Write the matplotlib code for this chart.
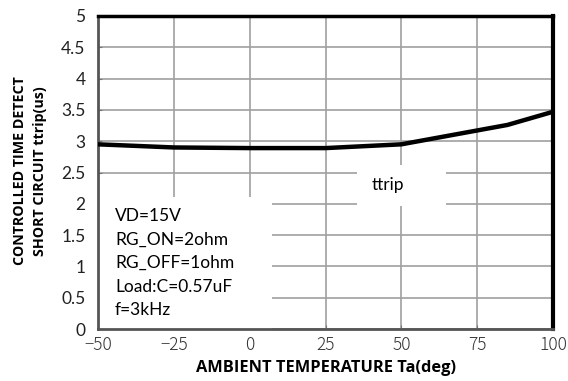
import matplotlib
matplotlib.use("Agg")
import matplotlib.pyplot as plt
from matplotlib.patches import Rectangle

temps = [-50, -25, 0, 25, 50, 85, 100]
ttrip = [2.95, 2.9, 2.89, 2.89, 2.95, 3.26, 3.47]
xticks = [-50, -25, 0, 25, 50, 75, 100]
yticks = [0, 0.5, 1, 1.5, 2, 2.5, 3, 3.5, 4, 4.5, 5]
ytick_labels = ["0", "0.5", "1", "1.5", "2", "2.5", "3", "3.5", "4", "4.5", "5"]
xtick_labels = ["\u221250", "\u221225", "0", "25", "50", "75", "100"]
conditions = ["VD=15V", "RG_ON=2ohm", "RG_OFF=1ohm", "Load:C=0.57uF", "f=3kHz"]

fig = plt.figure(figsize=(5.68, 3.81), dpi=100)
ax = fig.add_axes([98/568, 1-329/381, (553-98)/568, (329-16)/381])
ax.set_xlim(-50, 100)
ax.set_ylim(0, 5)
ax.set_xticks(xticks)
ax.set_yticks(yticks)
ax.set_yticklabels(ytick_labels, fontfamily="Lato", fontsize=12.5, color="#222222")
ax.set_xticklabels(xtick_labels, fontfamily=["Noto Sans CJK JP", "DejaVu Sans"], fontweight="light",
                   fontsize=12.5, color="#333333")
ax.tick_params(axis="y", direction="in", length=3, color="#777777", pad=9)
ax.tick_params(axis="x", direction="in", length=3, color="#777777", pad=5)
ax.grid(True, color="#a0a0a0", lw=1.2)
ax.set_axisbelow(True)

for s in ["top", "right"]:
    ax.spines[s].set_color("black")
ax.spines["top"].set_linewidth(2.5)
ax.spines["right"].set_linewidth(3)
for s in ["left", "bottom"]:
    ax.spines[s].set_color("#555555")
    ax.spines[s].set_linewidth(2)

ax.plot(temps, ttrip, color="black", lw=3.2, zorder=3)

# white boxes covering gridlines
ax.add_patch(Rectangle((-50, 0), (272-98)/455*150, (329-197)/313*5, facecolor="white", edgecolor="none", zorder=2))
ax.add_patch(Rectangle((-50 + (357-98)/455*150, (329-206)/313*5), (446-357)/455*150, (206-165)/313*5,
                       facecolor="white", edgecolor="none", zorder=2))

ax.text(-50 + (388-98)/455*150, (329-185)/313*5, "ttrip", fontfamily="Lato", fontsize=12.5,
        ha="center", va="center", zorder=4)

for i, line in enumerate(conditions):
    y = 216 + i*23.5
    ax.text(-50 + (115-98)/455*150, (329-y)/313*5, line, fontfamily="Lato", fontsize=12.5,
            ha="left", va="center", zorder=4)

ax.set_xlabel("AMBIENT TEMPERATURE Ta(deg)", fontfamily="Open Sans", fontweight="bold", fontsize=11.8, labelpad=4)
fig.text(20/568, 1-171/381, "CONTROLLED TIME DETECT", rotation=90, ha="center", va="center",
         fontfamily="Open Sans", fontweight="bold", fontsize=10.3)
fig.text(40/568, 1-171/381, "SHORT CIRCUIT ttrip(us)", rotation=90, ha="center", va="center",
         fontfamily="Open Sans", fontweight="bold", fontsize=10.3)

fig.savefig("out.png", dpi=100)
